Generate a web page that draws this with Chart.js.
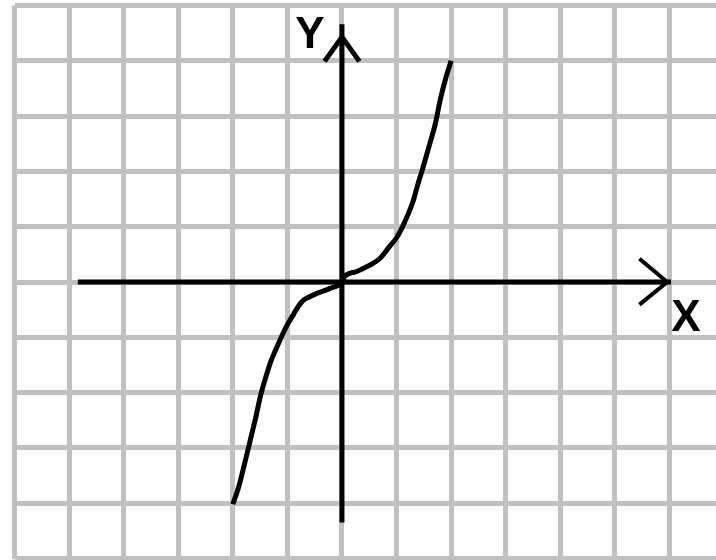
<!DOCTYPE html>
<html>
<head>
<meta charset="utf-8">
<script src="https://cdn.jsdelivr.net/npm/chart.js@4/dist/chart.umd.min.js"></script>
<style>
    html, body { margin: 0; padding: 0; background: #ffffff; }
    #grafico { display: block; }
</style>
</head>
<body>
<canvas id="grafico" width="716" height="560"></canvas>
<script>
// grid ticks (one cell = one unit)
const ticksX = [-6, -5, -4, -3, -2, -1, 0, 1, 2, 3, 4, 5, 6];
const ticksY = [-5, -4, -3, -2, -1, 0, 1, 2, 3, 4, 5];

// hand-drawn cubic curve
const curvaX = [-2.0, -1.9, -1.8, -1.69, -1.58, -1.49, -1.38, -1.29, -1.18, -1.09, -1.0, -0.89, -0.8, -0.72, -0.6, -0.47, -0.23, 0,
    0.05, 0.27, 0.5, 0.69, 0.87, 1.0, 1.1, 1.2, 1.3, 1.38, 1.47, 1.6, 1.71, 1.8, 1.9, 2.0];
const curvaY = [-4.02, -3.73, -3.35, -2.9, -2.45, -2.05, -1.67, -1.4, -1.15, -0.95, -0.77, -0.59, -0.44, -0.34, -0.27, -0.21, -0.12, 0,
    0.1, 0.19, 0.3, 0.42, 0.64, 0.8, 0.98, 1.2, 1.45, 1.73, 2.02, 2.47, 2.86, 3.29, 3.68, 4.0];

// axes and arrow heads
const eixoX = [[-4.84, 0], [6.03, 0]];
const eixoY = [[0, -4.35], [0, 4.66]];
const setaY = [[-0.32, 3.99], [0, 4.43], [0.32, 3.99]];
const setaX = [[5.45, 0.42], [5.96, 0], [5.45, -0.41]];

const rotulos = [
    { texto: 'Y', x: 310, y: 36 },
    { texto: 'X', x: 686, y: 319 },
];

const pontos = arr => arr.map(p => ({ x: p[0], y: p[1] }));

function linha(data, w) {
    return {
        data: data,
        borderColor: '#000000',
        borderWidth: w,
        pointRadius: 0,
        showLine: true,
        tension: 0,
        fill: false,
        borderCapStyle: 'butt',
        borderJoinStyle: 'miter',
    };
}

const plugRotulos = {
    id: 'rotulos',
    afterDatasetsDraw(chart) {
        const ctx = chart.ctx;
        ctx.save();
        ctx.fillStyle = '#000000';
        ctx.font = 'bold 44px "Liberation Sans", Arial, sans-serif';
        ctx.textAlign = 'center';
        ctx.textBaseline = 'middle';
        rotulos.forEach(r => ctx.fillText(r.texto, r.x, r.y));
        ctx.restore();
    },
};

const grade = { color: '#c0c0c0', lineWidth: 5, drawTicks: false };

const curva = linha(curvaX.map((x, i) => ({ x: x, y: curvaY[i] })), 5);
curva.cubicInterpolationMode = 'monotone';

new Chart(document.getElementById('grafico'), {
    type: 'scatter',
    data: {
        datasets: [
            linha(pontos(eixoX), 5),
            linha(pontos(eixoY), 5),
            linha(pontos(setaX), 4),
            linha(pontos(setaY), 5),
            curva,
        ],
    },
    options: {
        responsive: false,
        animation: false,
        events: [],
        layout: { padding: { left: 14.5, right: 0, top: 5.5, bottom: 1.5 } },
        plugins: { legend: { display: false }, tooltip: { enabled: false } },
        scales: {
            x: {
                type: 'linear',
                min: -6,
                max: 6.853,
                grid: grade,
                border: { display: false },
                ticks: { display: false },
                afterBuildTicks: s => { s.ticks = ticksX.map(v => ({ value: v })); },
                afterFit: s => { s.height = 0; },
            },
            y: {
                type: 'linear',
                min: -5,
                max: 5,
                grid: grade,
                border: { display: false },
                ticks: { display: false },
                afterBuildTicks: s => { s.ticks = ticksY.map(v => ({ value: v })); },
                afterFit: s => { s.width = 0; },
            },
        },
    },
    plugins: [plugRotulos],
});
</script>
</body>
</html>
